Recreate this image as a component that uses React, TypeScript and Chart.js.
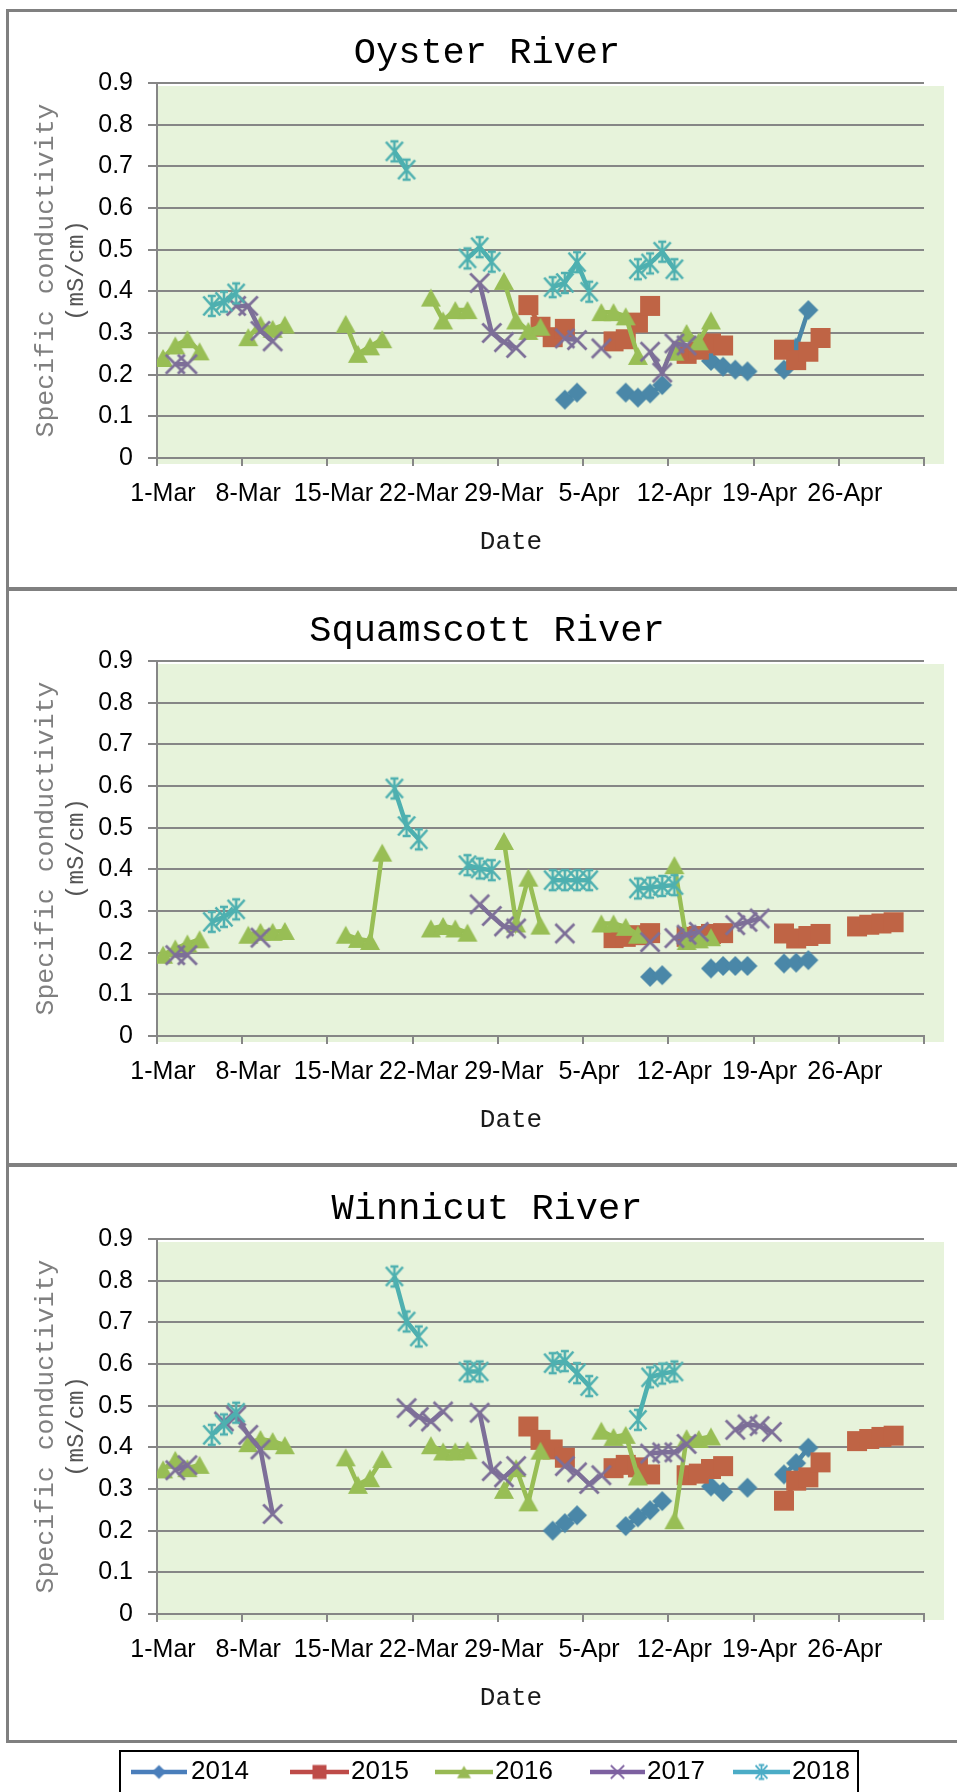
import React, { useEffect, useRef } from "react";
import { Chart, registerables } from "chart.js";
Chart.register(...registerables);

// ---------- categories / ticks ----------
const YEARS = ["2014", "2015", "2016", "2017", "2018"];
const X_TICK_LABELS = ["1-Mar", "8-Mar", "15-Mar", "22-Mar", "29-Mar", "5-Apr", "12-Apr", "19-Apr", "26-Apr", ""];
const Y_TICK_VALUES = [0, 0.1, 0.2, 0.3, 0.4, 0.5, 0.6, 0.7, 0.8, 0.9];
const SERIES_COLORS = ["#4A87A8", "#BF6445", "#98BE55", "#7D6F98", "#4EB0B0"];
const LEGEND_COLORS = ["#4A7EBB", "#BE4B48", "#98B954", "#7D60A0", "#4BACC6"];
const MARKERS = ["diamond", "square", "triangle", "x", "star"];

// ---------- Oyster River ----------
const OYSTER_2014_DATES = ["4/3", "4/4", "4/8", "4/9", "4/10", "4/11", "4/15", "4/16", "4/17", "4/18", "4/21", "4/22", "4/23"];
const OYSTER_2014 = [0.14, 0.157, 0.157, 0.145, 0.155, 0.175, 0.233, 0.219, 0.212, 0.208, 0.212, 0.265, 0.355];
const OYSTER_2015_DATES = ["3/31", "4/1", "4/2", "4/3", "4/7", "4/8", "4/9", "4/10", "4/13", "4/14", "4/15", "4/16", "4/21", "4/22", "4/23", "4/24"];
const OYSTER_2015 = [0.367, 0.315, 0.29, 0.31, 0.28, 0.285, 0.325, 0.365, 0.25, 0.26, 0.275, 0.27, 0.26, 0.235, 0.255, 0.288];
const OYSTER_2016_DATES = ["3/1", "3/2", "3/3", "3/4", "3/8", "3/9", "3/10", "3/11", "3/16", "3/17", "3/18", "3/19", "3/23", "3/24", "3/25", "3/26", "3/29", "3/30", "3/31", "4/1", "4/6", "4/7", "4/8", "4/9", "4/12", "4/13", "4/14", "4/15"];
const OYSTER_2016 = [0.24, 0.27, 0.285, 0.256, 0.29, 0.32, 0.31, 0.32, 0.322, 0.25, 0.268, 0.285, 0.385, 0.33, 0.355, 0.355, 0.425, 0.33, 0.305, 0.315, 0.35, 0.35, 0.34, 0.245, 0.255, 0.3, 0.28, 0.33];
const OYSTER_2017_DATES = ["3/2", "3/3", "3/7", "3/8", "3/9", "3/10", "3/27", "3/28", "3/29", "3/30", "4/3", "4/4", "4/6", "4/10", "4/11", "4/12", "4/13"];
const OYSTER_2017 = [0.225, 0.225, 0.365, 0.365, 0.305, 0.28, 0.42, 0.3, 0.278, 0.264, 0.287, 0.283, 0.263, 0.255, 0.205, 0.275, 0.27];
const OYSTER_2018_DATES = ["3/5", "3/6", "3/7", "3/20", "3/21", "3/26", "3/27", "3/28", "4/2", "4/3", "4/4", "4/5", "4/9", "4/10", "4/11", "4/12"];
const OYSTER_2018 = [0.365, 0.375, 0.395, 0.736, 0.692, 0.479, 0.506, 0.471, 0.41, 0.42, 0.47, 0.399, 0.453, 0.467, 0.495, 0.453];

// ---------- Squamscott River ----------
const SQUAM_2014_DATES = ["4/10", "4/11", "4/15", "4/16", "4/17", "4/18", "4/21", "4/22", "4/23"];
const SQUAM_2014 = [0.142, 0.146, 0.162, 0.168, 0.168, 0.168, 0.174, 0.176, 0.182];
const SQUAM_2015_DATES = ["4/7", "4/8", "4/9", "4/10", "4/13", "4/14", "4/15", "4/16", "4/21", "4/22", "4/23", "4/24", "4/27", "4/28", "4/29", "4/30"];
const SQUAM_2015 = [0.235, 0.238, 0.242, 0.247, 0.238, 0.24, 0.245, 0.247, 0.246, 0.234, 0.24, 0.245, 0.263, 0.267, 0.27, 0.273];
const SQUAM_2016_DATES = ["3/1", "3/2", "3/3", "3/4", "3/8", "3/9", "3/10", "3/11", "3/16", "3/17", "3/18", "3/19", "3/23", "3/24", "3/25", "3/26", "3/29", "3/30", "3/31", "4/1", "4/6", "4/7", "4/8", "4/9", "4/12", "4/13", "4/14", "4/15"];
const SQUAM_2016 = [0.195, 0.21, 0.222, 0.232, 0.243, 0.25, 0.25, 0.252, 0.243, 0.233, 0.228, 0.44, 0.258, 0.264, 0.258, 0.248, 0.468, 0.27, 0.38, 0.265, 0.27, 0.27, 0.262, 0.243, 0.41, 0.228, 0.232, 0.237];
const SQUAM_2017_DATES = ["3/2", "3/3", "3/9", "3/27", "3/28", "3/29", "3/30", "4/3", "4/10", "4/12", "4/13", "4/14", "4/17", "4/18", "4/19"];
const SQUAM_2017 = [0.194, 0.194, 0.236, 0.316, 0.288, 0.263, 0.258, 0.246, 0.225, 0.235, 0.243, 0.25, 0.266, 0.274, 0.282];
const SQUAM_2018_DATES = ["3/5", "3/6", "3/7", "3/20", "3/21", "3/22", "3/26", "3/27", "3/28", "4/2", "4/3", "4/4", "4/5", "4/9", "4/10", "4/11", "4/12"];
const SQUAM_2018 = [0.274, 0.286, 0.304, 0.594, 0.504, 0.472, 0.41, 0.402, 0.398, 0.374, 0.374, 0.374, 0.374, 0.354, 0.356, 0.36, 0.362];

// ---------- Winnicut River ----------
const WINNI_2014_DATES = ["4/2", "4/3", "4/4", "4/8", "4/9", "4/10", "4/11", "4/15", "4/16", "4/18", "4/21", "4/22", "4/23"];
const WINNI_2014 = [0.2, 0.218, 0.237, 0.211, 0.232, 0.249, 0.271, 0.306, 0.293, 0.303, 0.335, 0.362, 0.399];
const WINNI_2015_DATES = ["3/31", "4/1", "4/2", "4/3", "4/7", "4/8", "4/9", "4/10", "4/13", "4/14", "4/15", "4/16", "4/21", "4/22", "4/23", "4/24", "4/27", "4/28", "4/29", "4/30"];
const WINNI_2015 = [0.45, 0.418, 0.395, 0.375, 0.35, 0.358, 0.352, 0.335, 0.333, 0.337, 0.348, 0.355, 0.272, 0.32, 0.328, 0.364, 0.415, 0.42, 0.425, 0.428];
const WINNI_2016_DATES = ["3/1", "3/2", "3/3", "3/4", "3/8", "3/9", "3/10", "3/11", "3/16", "3/17", "3/18", "3/19", "3/23", "3/24", "3/25", "3/26", "3/29", "3/30", "3/31", "4/1", "4/6", "4/7", "4/8", "4/9", "4/12", "4/13", "4/14", "4/15"];
const WINNI_2016 = [0.347, 0.37, 0.35, 0.358, 0.41, 0.42, 0.415, 0.405, 0.376, 0.31, 0.326, 0.372, 0.405, 0.39, 0.39, 0.393, 0.298, 0.35, 0.268, 0.392, 0.44, 0.425, 0.43, 0.33, 0.225, 0.422, 0.42, 0.426];
const WINNI_2017_DATES = ["3/2", "3/3", "3/6", "3/7", "3/8", "3/9", "3/10", "3/21", "3/22", "3/23", "3/24", "3/27", "3/28", "3/29", "3/30", "4/3", "4/4", "4/5", "4/6", "4/10", "4/11", "4/12", "4/13", "4/17", "4/18", "4/19", "4/20"];
const WINNI_2017 = [0.345, 0.357, 0.462, 0.475, 0.43, 0.395, 0.24, 0.494, 0.473, 0.462, 0.486, 0.483, 0.343, 0.328, 0.355, 0.355, 0.34, 0.312, 0.333, 0.385, 0.388, 0.388, 0.408, 0.442, 0.455, 0.451, 0.437];
const WINNI_2018_DATES = ["3/5", "3/6", "3/7", "3/20", "3/21", "3/22", "3/26", "3/27", "4/2", "4/3", "4/4", "4/5", "4/9", "4/10", "4/11", "4/12"];
const WINNI_2018 = [0.43, 0.455, 0.483, 0.81, 0.702, 0.666, 0.582, 0.582, 0.602, 0.607, 0.578, 0.547, 0.466, 0.568, 0.577, 0.582];

const GRID = "#868686";
const SANS = '"Liberation Sans", Arial, sans-serif';
const MONO = '"Liberation Mono", "Courier New", monospace';

const MONTH_START: Record<string, number> = { "3": 0, "4": 31 };
function dayIndex(md: string) {
  const [m, d] = md.split("/");
  return MONTH_START[m] + Number(d) - 1;
}
function toPoints(dates: string[], values: number[]) {
  const pts: { x: number; y: number | null }[] = [];
  let prev: number | null = null;
  dates.forEach((md, i) => {
    const d = dayIndex(md);
    if (prev !== null && d - prev > 1) pts.push({ x: prev + 1.5, y: null });
    pts.push({ x: d + 0.5, y: values[i] });
    prev = d;
  });
  return pts;
}

function makeMarker(kind: string, color: string, k = 1): HTMLCanvasElement {
  const s = Math.ceil(26 * k);
  const c = document.createElement("canvas");
  c.width = s;
  c.height = s;
  const g = c.getContext("2d")!;
  const m = s / 2;
  g.fillStyle = color;
  g.strokeStyle = color;
  if (kind === "diamond") {
    g.beginPath();
    g.moveTo(m, m - 10 * k);
    g.lineTo(m + 10 * k, m);
    g.lineTo(m, m + 10 * k);
    g.lineTo(m - 10 * k, m);
    g.closePath();
    g.fill();
  } else if (kind === "square") {
    g.fillRect(m - 10 * k, m - 10 * k, 20 * k, 20 * k);
  } else if (kind === "triangle") {
    g.beginPath();
    g.moveTo(m, m - 9 * k);
    g.lineTo(m + 10 * k, m + 9 * k);
    g.lineTo(m - 10 * k, m + 9 * k);
    g.closePath();
    g.fill();
  } else if (kind === "x") {
    g.lineWidth = 2.8 * k;
    g.beginPath();
    g.moveTo(m - 9.5 * k, m - 9.5 * k);
    g.lineTo(m + 9.5 * k, m + 9.5 * k);
    g.moveTo(m + 9.5 * k, m - 9.5 * k);
    g.lineTo(m - 9.5 * k, m + 9.5 * k);
    g.stroke();
  } else {
    g.lineWidth = 2.6 * k;
    g.beginPath();
    g.moveTo(m - 8.5 * k, m - 9.5 * k);
    g.lineTo(m + 8.5 * k, m + 9.5 * k);
    g.moveTo(m + 8.5 * k, m - 9.5 * k);
    g.lineTo(m - 8.5 * k, m + 9.5 * k);
    g.moveTo(m, m - 11 * k);
    g.lineTo(m, m + 11 * k);
    g.moveTo(m - 4 * k, m - 10 * k);
    g.lineTo(m + 4 * k, m - 10 * k);
    g.moveTo(m - 4 * k, m + 10 * k);
    g.lineTo(m + 4 * k, m + 10 * k);
    g.stroke();
  }
  return c;
}

type PanelCfg = {
  title: string;
  series: [string[], number[]][];
  top: number;
  height: number;
  plotTop: number;
  plotBottom: number;
  legend: boolean;
};

const PANELS: PanelCfg[] = [
  {
    title: "Oyster River",
    series: [
      [OYSTER_2014_DATES, OYSTER_2014],
      [OYSTER_2015_DATES, OYSTER_2015],
      [OYSTER_2016_DATES, OYSTER_2016],
      [OYSTER_2017_DATES, OYSTER_2017],
      [OYSTER_2018_DATES, OYSTER_2018],
    ],
    top: 10,
    height: 579,
    plotTop: 73,
    plotBottom: 448,
    legend: false,
  },
  {
    title: "Squamscott River",
    series: [
      [SQUAM_2014_DATES, SQUAM_2014],
      [SQUAM_2015_DATES, SQUAM_2015],
      [SQUAM_2016_DATES, SQUAM_2016],
      [SQUAM_2017_DATES, SQUAM_2017],
      [SQUAM_2018_DATES, SQUAM_2018],
    ],
    top: 588,
    height: 577,
    plotTop: 73,
    plotBottom: 448,
    legend: false,
  },
  {
    title: "Winnicut River",
    series: [
      [WINNI_2014_DATES, WINNI_2014],
      [WINNI_2015_DATES, WINNI_2015],
      [WINNI_2016_DATES, WINNI_2016],
      [WINNI_2017_DATES, WINNI_2017],
      [WINNI_2018_DATES, WINNI_2018],
    ],
    top: 1165,
    height: 627,
    plotTop: 74,
    plotBottom: 449,
    legend: true,
  },
];

const LEGEND_ITEMS = [
  { x1: 131, x2: 187, tx: 191 },
  { x1: 290, x2: 349, tx: 351 },
  { x1: 435, x2: 493, tx: 495 },
  { x1: 590, x2: 645, tx: 647 },
  { x1: 733, x2: 790, tx: 792 },
];

function Panel({ cfg }: { cfg: PanelCfg }) {
  const ref = useRef<HTMLCanvasElement>(null);
  useEffect(() => {
    const markers = MARKERS.map((m, i) => makeMarker(m, SERIES_COLORS[i]));
    const legendMarkers = MARKERS.map((m, i) => makeMarker(m, LEGEND_COLORS[i], 0.7));
    const datasets = cfg.series.map(([dates, vals], i) => ({
      label: YEARS[i],
      data: toPoints(dates, vals),
      borderColor: SERIES_COLORS[i],
      backgroundColor: SERIES_COLORS[i],
      borderWidth: 4.5,
      pointStyle: markers[i],
      pointRadius: 10,
      pointHoverRadius: 10,
      spanGaps: false,
      tension: 0,
      order: 5 - i,
    }));

    const panelPlugin = {
      id: "panelDeco",
      beforeDraw(chart: any) {
        const a = chart.chartArea;
        const ctx = chart.ctx;
        ctx.save();
        ctx.fillStyle = "#FFFFFF";
        ctx.fillRect(0, 0, chart.width, chart.height);
        ctx.fillStyle = "#E7F3DB";
        ctx.fillRect(a.left + 1, a.top + 3, a.right - a.left + 19, a.bottom - a.top + 3);
        ctx.restore();
      },
      afterDraw(chart: any) {
        const a = chart.chartArea;
        const ctx = chart.ctx;
        ctx.save();
        ctx.fillStyle = "#000";
        ctx.textAlign = "center";
        ctx.textBaseline = "alphabetic";
        ctx.font = `37px ${MONO}`;
        ctx.fillText(cfg.title, 487, a.top - 20);
        ctx.font = `26px ${MONO}`;
        ctx.textBaseline = "middle";
        ctx.fillStyle = "#1a1a1a";
        ctx.fillText("Date", 511, a.bottom + 84);
        const cy = (a.top + a.bottom) / 2;
        ctx.save();
        ctx.translate(46, cy);
        ctx.rotate(-Math.PI / 2);
        ctx.fillStyle = "#7f7f7f";
        ctx.font = `26.5px ${MONO}`;
        ctx.fillText("Specific conductivity", 0, 0);
        ctx.restore();
        ctx.save();
        ctx.translate(77, cy);
        ctx.rotate(-Math.PI / 2);
        ctx.fillStyle = "#555";
        ctx.font = `24px ${MONO}`;
        ctx.fillText("(mS/cm)", 0, 0);
        ctx.restore();

        if (cfg.legend) {
          const ly = 607;
          ctx.strokeStyle = "#000";
          ctx.lineWidth = 2;
          ctx.strokeRect(120, 586, 738, 80);
          LEGEND_ITEMS.forEach((it, i) => {
            ctx.strokeStyle = LEGEND_COLORS[i];
            ctx.lineWidth = 4.5;
            ctx.beginPath();
            ctx.moveTo(it.x1, ly);
            ctx.lineTo(it.x2, ly);
            ctx.stroke();
            const mk = legendMarkers[i];
            ctx.drawImage(mk, (it.x1 + it.x2) / 2 - mk.width / 2, ly - mk.height / 2);
            ctx.fillStyle = "#000";
            ctx.font = `26px ${SANS}`;
            ctx.textAlign = "left";
            ctx.textBaseline = "middle";
            ctx.fillText(YEARS[i], it.tx, ly);
          });
        }
        ctx.restore();
      },
    };

    const chart = new Chart(ref.current!, {
      type: "line",
      data: { datasets: datasets as any },
      options: {
        animation: false,
        responsive: false,
        devicePixelRatio: 1,
        layout: { padding: { left: 0, right: 33, top: cfg.plotTop, bottom: 0 } },
        plugins: { legend: { display: false }, tooltip: { enabled: false }, title: { display: false } },
        scales: {
          x: {
            type: "linear",
            min: 0,
            max: 63,
            afterBuildTicks: (s: any) => {
              s.ticks = X_TICK_LABELS.map((_, k) => ({ value: k * 7 }));
            },
            afterFit: (s: any) => {
              s.height = cfg.height - cfg.plotBottom;
            },
            ticks: {
              callback: (_v: any, idx: number) => X_TICK_LABELS[idx],
              autoSkip: false,
              maxRotation: 0,
              labelOffset: 6,
              padding: 13,
              color: "#000",
              font: { family: SANS, size: 25 },
            },
            grid: { drawOnChartArea: false, drawTicks: true, tickLength: 8, color: GRID, lineWidth: 2 },
            border: { display: true, color: GRID, width: 2 },
          },
          y: {
            min: 0,
            max: 0.9,
            afterBuildTicks: (s: any) => {
              s.ticks = Y_TICK_VALUES.map((v) => ({ value: v }));
            },
            afterFit: (s: any) => {
              s.width = 157;
            },
            ticks: {
              callback: (v: any) => (Number(v) === 0 ? "0" : Number(v).toFixed(1)),
              padding: 15,
              color: "#000",
              font: { family: SANS, size: 25 },
            },
            grid: { color: GRID, lineWidth: 2, drawTicks: true, tickLength: 9 },
            border: { display: true, color: GRID, width: 2 },
          },
        },
      },
      plugins: [panelPlugin],
    } as any);
    return () => chart.destroy();
  }, []);
  return (
    <canvas
      ref={ref}
      width={957}
      height={cfg.height}
      style={{ position: "absolute", left: 0, top: cfg.top, width: 957, height: cfg.height, display: "block" }}
    />
  );
}

const BORDERS = [
  { top: 9, height: 582 },
  { top: 587, height: 580 },
  { top: 1163, height: 580 },
];

export default function App() {
  return (
    <div style={{ position: "absolute", left: 0, top: 0, width: 957, height: 1792, overflow: "hidden", background: "#fff" }}>
      {PANELS.map((p) => (
        <Panel key={p.title} cfg={p} />
      ))}
      {BORDERS.map((b, i) => (
        <div
          key={i}
          style={{
            position: "absolute",
            left: 6,
            top: b.top,
            width: 1000,
            height: b.height,
            boxSizing: "border-box",
            border: "3px solid #808080",
            pointerEvents: "none",
          }}
        />
      ))}
    </div>
  );
}
